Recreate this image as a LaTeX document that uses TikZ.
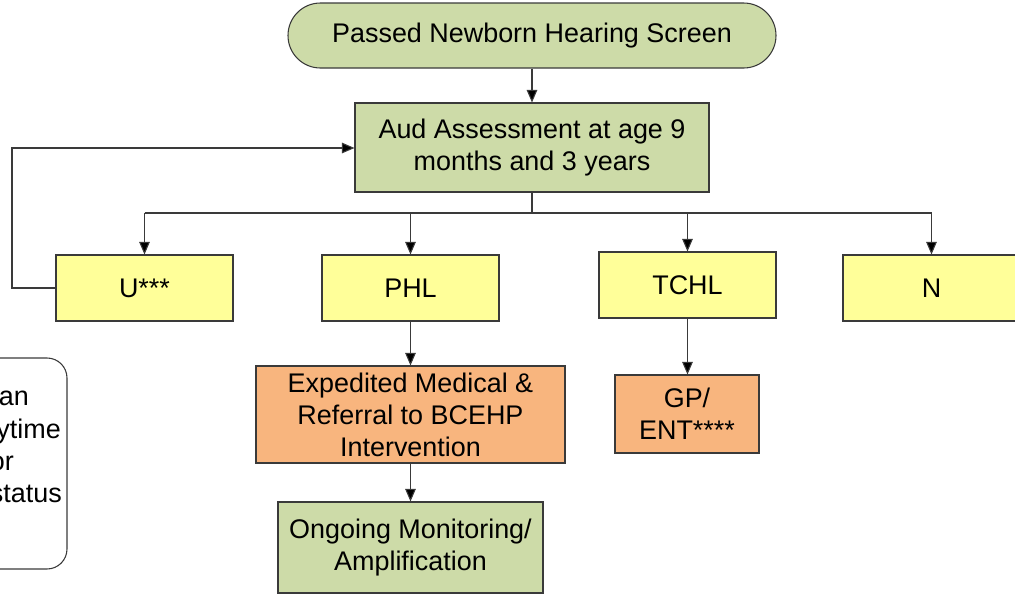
\documentclass[tikz,border=0pt]{standalone}
\usepackage{fontspec}
\setmainfont{Liberation Sans}
\usetikzlibrary{arrows.meta}
\definecolor{gfill}{HTML}{CDDBA8}
\definecolor{yfill}{HTML}{FFFF99}
\definecolor{ofill}{HTML}{F8B57E}
\definecolor{edge}{HTML}{3A3A3A}
\begin{document}
\begin{tikzpicture}[x=0.75pt,y=-0.75pt,
  box/.style={draw=edge,line width=0.8pt,inner sep=0pt,align=center,
    font=\fontsize{20.2}{24}\selectfont},
  gbox/.style={box,fill=gfill},
  ybox/.style={box,fill=yfill,minimum width=132.75pt,minimum height=49.5pt},
  obox/.style={box,fill=ofill},
  sidetxt/.style={anchor=base east,inner sep=0pt,font=\fontsize{20.2}{24}\selectfont},
  arr/.style={draw=edge,line width=0.8pt,-{Triangle[length=9.5pt,width=8pt,fill=black]}},
  ln/.style={draw=edge,line width=0.8pt}]
\useasboundingbox (0,0) rectangle (1015,594);
\begin{scope}
\clip (0,0) rectangle (1015,594);
\node[gbox,rounded corners=24.3pt,minimum width=366pt,minimum height=48.75pt] (top) at (532,35.5) {Passed Newborn Hearing Screen};
\node[gbox,minimum width=265.5pt,minimum height=66.75pt] (aud) at (532,147.5) {Aud Assessment at age 9\\months and 3 years};
\node[ybox] (u) at (144.5,288) {U***};
\node[ybox] (phl) at (410.5,288) {PHL};
\node[ybox] (tchl) at (687.5,285) {TCHL};
\node[ybox] (n) at (931.5,288) {N};
\node[obox,minimum width=231.75pt,minimum height=72.75pt] (exp) at (410.5,414.5) {Expedited Medical \&\\Referral to BCEHP\\Intervention};
\node[gbox,minimum width=198.75pt,minimum height=68.25pt] (ong) at (410.5,547.5) {Ongoing Monitoring/\\Amplification};
\node[obox,minimum width=108pt,minimum height=58.5pt] (gp) at (687,414) {GP/\\ENT****};
\draw[draw=edge,line width=0.8pt,rounded corners=15pt] (-40,358) rectangle (67,569);
\node[sidetxt] (s1) at (29,405) {an};
\node[sidetxt] (s2) at (61,438) {ytime};
\node[sidetxt] (s3) at (14,470) {or};
\node[sidetxt] (s4) at (62,502) {status};
\coordinate (bus) at (532,213);
\coordinate (loopc) at (12,148);
\draw[arr] (top) -- (aud);
\draw[ln] (aud.south) -- (aud.south |- bus);
\draw[ln] (u.north |- bus) -- (n.north |- bus);
\draw[arr] (u.north |- bus) -- (u.north);
\draw[arr] (phl.north |- bus) -- (phl.north);
\draw[arr] (tchl.north |- bus) -- (tchl.north);
\draw[arr] (n.north |- bus) -- (n.north);
\draw[arr] (u.west) -| (loopc) -- (aud.west |- loopc);
\draw[arr] (phl.south) -- (exp.north);
\draw[arr] (exp.south) -- (ong.north);
\draw[arr] (tchl.south) -- (tchl.south |- gp.north);
\end{scope}
\end{tikzpicture}
\end{document}
